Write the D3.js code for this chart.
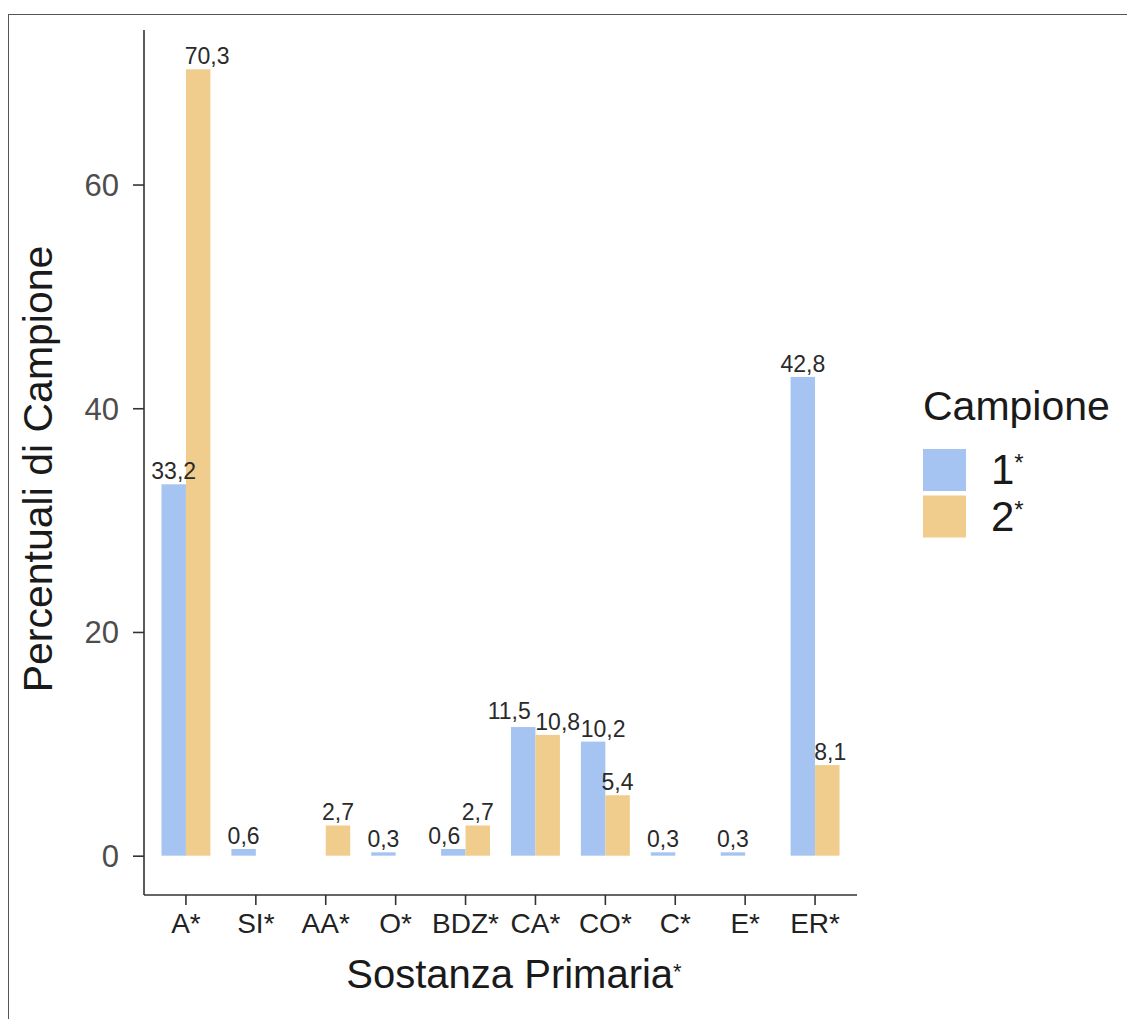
<!DOCTYPE html>
<html>
<head>
<meta charset="utf-8">
<script src="https://cdn.jsdelivr.net/npm/d3@7"></script>
<style>
  html, body { margin: 0; padding: 0; background: #ffffff; }
  svg { display: block; font-family: "Liberation Sans", Arial, Helvetica, sans-serif; }
</style>
</head>
<body>
<svg id="chart" width="1127" height="1019"></svg>
<script>
// ---- data ----
const categories = ["A*", "SI*", "AA*", "O*", "BDZ*", "CA*", "CO*", "C*", "E*", "ER*"];
const seriesNames = ["1*", "2*"];
const series1 = [33.2, 0.6, null, 0.3, 0.6, 11.5, 10.2, 0.3, 0.3, 42.8];
const series2 = [70.3, null, 2.7, null, 2.7, 10.8, 5.4, null, null, 8.1];
const yTicks = [0, 20, 40, 60];
const colors = ["#A6C4F1", "#F0CD8C"];

// label repel offsets (styling, px) to avoid overlapping labels, as in the reference
const labelShift1 = [0, 0, 0, 0, -9, -14, 10, 0, 0, 0];
const labelShift2 = [9, 0, 0, 0, 0, 10, 0, 0, 0, 3];
const labelRaise1 = [0, 0, 0, 0, 0, 3, 0, 0, 0, 0];

const svg = d3.select("#chart");

// outer frame
svg.append("rect")
  .attr("x", 8.5).attr("y", 14.5)
  .attr("width", 1140).attr("height", 1030)
  .attr("fill", "none").attr("stroke", "#555").attr("stroke-width", 1);

const panel = { left: 144, right: 857, top: 30, bottom: 895 };

const x = d3.scaleBand()
  .domain(categories)
  .range([panel.left, panel.right])
  .paddingInner(0)
  .paddingOuter(0.1);

const xSub = d3.scaleBand()
  .domain(seriesNames)
  .range([0, x.bandwidth() * 0.7]);

const maxV = d3.max([...series1, ...series2]);
const expand = maxV * 0.05;
const y = d3.scaleLinear()
  .domain([0 - expand, maxV + expand])
  .range([panel.bottom, panel.top]);

const rows = [];
[series1, series2].forEach((arr, si) => {
  arr.forEach((v, ci) => {
    if (v !== null && v !== undefined) {
      rows.push({
        cat: categories[ci], s: seriesNames[si], si, v,
        dx: (si === 0 ? labelShift1 : labelShift2)[ci],
        dy: si === 0 ? labelRaise1[ci] : 0
      });
    }
  });
});

const barX = d => x(d.cat) + x.bandwidth() * 0.15 + xSub(d.s);

// bars
svg.append("g").selectAll("rect")
  .data(rows).enter().append("rect")
  .attr("x", barX)
  .attr("width", xSub.bandwidth())
  .attr("y", d => y(d.v))
  .attr("height", d => y(0) - y(d.v))
  .attr("fill", d => colors[d.si]);

// value labels
const fmt = v => d3.format(".1f")(v).replace(".", ",");
svg.append("g").selectAll("text")
  .data(rows).enter().append("text")
  .attr("x", d => barX(d) + xSub.bandwidth() / 2 + d.dx)
  .attr("y", d => y(d.v) - 5 - d.dy)
  .attr("text-anchor", "middle")
  .attr("font-size", 23)
  .attr("fill", "#2a2a2a")
  .text(d => fmt(d.v));

// y axis
const yAxis = svg.append("g")
  .attr("transform", `translate(${panel.left},0)`)
  .call(d3.axisLeft(y).tickValues(yTicks).tickSize(11).tickPadding(14).tickFormat(d3.format("d")));
yAxis.select(".domain").attr("d", `M0,${panel.top}V${panel.bottom}`).attr("stroke", "#333").attr("stroke-width", 1.6);
yAxis.selectAll(".tick line").attr("stroke", "#333").attr("stroke-width", 1.6);
yAxis.selectAll(".tick text").attr("font-size", 31).attr("fill", "#4d4d4d")
  .attr("font-family", "Liberation Sans, Arial, sans-serif").attr("dy", "0.35em");

// x axis
const xAxis = svg.append("g")
  .attr("transform", `translate(0,${panel.bottom})`)
  .call(d3.axisBottom(x).tickSize(10).tickPadding(0));
xAxis.select(".domain").attr("d", `M${panel.left},0H${panel.right}`).attr("stroke", "#333").attr("stroke-width", 1.6);
xAxis.selectAll(".tick line").attr("stroke", "#333").attr("stroke-width", 1.6);
xAxis.selectAll(".tick text").attr("font-size", 28).attr("fill", "#222")
  .attr("font-family", "Liberation Sans, Arial, sans-serif")
  .attr("y", 38).attr("dy", 0);

// axis titles
svg.append("text")
  .attr("transform", "translate(52,469) rotate(-90)")
  .attr("text-anchor", "middle")
  .attr("font-size", 41)
  .attr("fill", "#1a1a1a")
  .text("Percentuali di Campione");

const xTitle = svg.append("text")
  .attr("x", 514).attr("y", 988)
  .attr("text-anchor", "middle")
  .attr("font-size", 40)
  .attr("fill", "#1a1a1a");
xTitle.append("tspan").text("Sostanza Primaria");
xTitle.append("tspan").attr("font-size", 22).attr("dy", -9).text("*");

// legend
const legend = svg.append("g");
legend.append("text")
  .attr("x", 923).attr("y", 420)
  .attr("font-size", 41)
  .attr("fill", "#1a1a1a")
  .text("Campione");

seriesNames.forEach((name, i) => {
  const ky = 449 + i * 46.5;
  legend.append("rect")
    .attr("x", 923).attr("y", ky)
    .attr("width", 43).attr("height", 42)
    .attr("fill", colors[i]);
  const t = legend.append("text")
    .attr("x", 991).attr("y", ky + 35)
    .attr("font-size", 42)
    .attr("fill", "#1a1a1a");
  t.append("tspan").text(name.replace("*", ""));
  t.append("tspan").attr("font-size", 24).attr("dy", -13).text("*");
});
</script>
</body>
</html>
